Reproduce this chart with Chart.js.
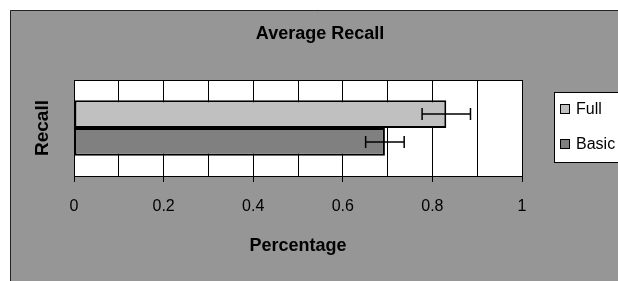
<!DOCTYPE html>
<html lang="en">
<head>
<meta charset="UTF-8">
<title>Average Recall</title>
<script src="https://cdn.jsdelivr.net/npm/chart.js"></script>
<style>
 body { margin: 0; background: #fff; }
 canvas { display: block; }
</style>
</head>
<body>
<canvas id="recallChart" width="618" height="281"></canvas>
<script>
let categories = ["Recall"];
let seriesNames = ["Full", "Basic"];
let fullValues = [0.831];
let basicValues = [0.694];
let fullErrors = [0.054];
let basicErrors = [0.043];
let xTicks = [0, 0.2, 0.4, 0.6, 0.8, 1];

const FONT = "'Liberation Sans', Arial, sans-serif";

// gray panel + white plot area behind everything
const panel = {
  id: 'panel',
  beforeDraw(chart) {
    const ctx = chart.ctx, a = chart.chartArea;
    ctx.save();
    ctx.fillStyle = '#fff';
    ctx.fillRect(0, 0, chart.width, chart.height);
    ctx.fillStyle = '#969696';
    ctx.fillRect(10, 10, chart.width, chart.height);
    ctx.strokeStyle = '#222';
    ctx.lineWidth = 1;
    ctx.beginPath();
    ctx.moveTo(10.5, chart.height);
    ctx.lineTo(10.5, 10.5);
    ctx.lineTo(chart.width, 10.5);
    ctx.stroke();
    ctx.fillStyle = '#fff';
    ctx.fillRect(a.left, a.top, a.right - a.left, a.bottom - a.top);
    ctx.restore();
  },
  afterDraw(chart) {
    const ctx = chart.ctx, a = chart.chartArea;
    ctx.save();
    ctx.strokeStyle = '#000';
    ctx.lineWidth = 1;
    ctx.strokeRect(a.left + 0.5, a.top + 0.5, a.right - a.left, a.bottom - a.top);
    // main title
    ctx.fillStyle = '#000';
    ctx.font = 'bold 18px ' + FONT;
    ctx.textAlign = 'center';
    ctx.textBaseline = 'middle';
    ctx.fillText('Average Recall', 320, 34);
    // legend
    ctx.fillStyle = '#fff';
    ctx.fillRect(554, 92, 70, 71);
    ctx.strokeRect(554.5, 92.5, 70, 70);
    ctx.font = '16px ' + FONT;
    ctx.textAlign = 'left';
    chart.data.datasets.forEach((ds, i) => {
      const y = 109 + i * 35;
      ctx.fillStyle = ds.backgroundColor;
      ctx.fillRect(560, y - 5, 10, 10);
      ctx.strokeStyle = '#000';
      ctx.strokeRect(560.5, y - 4.5, 9, 9);
      ctx.fillStyle = '#000';
      ctx.fillText(ds.label, 576, y + 1);
    });
    ctx.restore();
  }
};

const errorBars = {
  id: 'errorBars',
  afterDatasetsDraw(chart) {
    const ctx = chart.ctx, x = chart.scales.x;
    chart.data.datasets.forEach((ds, i) => {
      chart.getDatasetMeta(i).data.forEach((bar, j) => {
        const v = ds.data[j], e = ds.errors[j];
        const x1 = x.getPixelForValue(v - e), x2 = x.getPixelForValue(v + e);
        const y = bar.y;
        ctx.save();
        ctx.strokeStyle = '#000';
        ctx.lineWidth = 1.5;
        ctx.beginPath();
        ctx.moveTo(x1, y); ctx.lineTo(x2, y);
        ctx.moveTo(x1, y - 6); ctx.lineTo(x1, y + 6);
        ctx.moveTo(x2, y - 6); ctx.lineTo(x2, y + 6);
        ctx.stroke();
        ctx.restore();
      });
    });
  }
};

new Chart(document.getElementById('recallChart'), {
  type: 'bar',
  data: {
    labels: categories,
    datasets: [{
      label: seriesNames[0],
      data: fullValues,
      errors: fullErrors,
      backgroundColor: '#c0c0c0'
    }, {
      label: seriesNames[1],
      data: basicValues,
      errors: basicErrors,
      backgroundColor: '#808080'
    }]
  },
  options: {
    indexAxis: 'y',
    responsive: false,
    animation: false,
    layout: { padding: { left: 0, right: 96, top: 80, bottom: 0 } },
    datasets: {
      bar: {
        borderColor: '#000',
        borderWidth: 2,
        borderSkipped: false,
        categoryPercentage: 0.58,
        barPercentage: 1
      }
    },
    plugins: {
      legend: { display: false },
      tooltip: { enabled: false }
    },
    scales: {
      x: {
        min: 0,
        max: 1,
        afterFit(scale) { scale.height = 105; },
        border: { color: '#000', width: 1 },
        grid: {
          color: '#000',
          lineWidth: 1,
          tickLength: 6,
          tickColor: (c) => xTicks.some(t => Math.abs(t - c.tick.value) < 1e-6) ? '#000' : 'rgba(0,0,0,0)'
        },
        ticks: {
          stepSize: 0.1,
          autoSkip: false,
          maxRotation: 0,
          padding: 15,
          color: '#000',
          font: { family: FONT, size: 16 },
          callback: (v) => {
            const t = xTicks.find(t => Math.abs(t - v) < 1e-6);
            return t === undefined ? '' : String(t);
          }
        },
        title: {
          display: true,
          text: 'Percentage',
          color: '#000',
          font: { family: FONT, size: 18, weight: 'bold' },
          padding: { top: 4, bottom: 24 }
        }
      },
      y: {
        afterFit(scale) { scale.width = 74; },
        border: { color: '#000', width: 1 },
        grid: { display: false },
        ticks: { display: false },
        title: {
          display: true,
          text: 'Recall',
          color: '#000',
          font: { family: FONT, size: 19, weight: 'bold' },
          padding: { top: 31, bottom: 0 }
        }
      }
    }
  },
  plugins: [panel, errorBars]
});
</script>
</body>
</html>
